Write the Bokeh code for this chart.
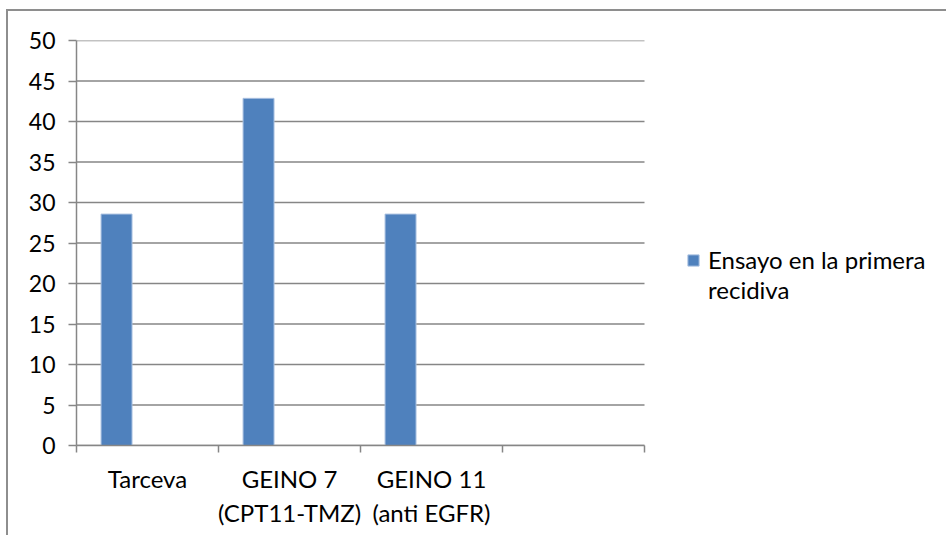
from bokeh.plotting import figure
from bokeh.models import (FixedTicker, Range1d, Legend, LegendItem, LinearAxis,
                          ColumnDataSource)
from bokeh.transform import dodge
from bokeh.embed import file_html
from bokeh.resources import INLINE

# ---- data ----
categories = ["Tarceva", "GEINO 7\n(CPT11-TMZ)", "GEINO 11\n(anti EGFR)", ""]
values = [28.57, 42.86, 28.57, None]
series_name = ["Ensayo en la primera", "recidiva"]
y_ticks = [0, 5, 10, 15, 20, 25, 30, 35, 40, 45, 50]

# ---- styles / layout ----
FONT = "Lato"
FS_Y = "23px"
FS = "24px"
GRID = "#868686"
BAR = "#4F81BD"

CANVAS_W, CANVAS_H = 940, 526
LEFT, TOP, BOTTOM = 68, 29, 92
FRAME_W = CANVAS_W - LEFT
SLOTS_PX = 568          # pixel width taken by the category slots

n = len(categories)
cat_pos = [i + 0.5 for i in range(n)]
bar_w = 0.218
x_end = n * FRAME_W / SLOTS_PX

src = ColumnDataSource(dict(
    x=[c for c, v in zip(cat_pos, values) if v is not None],
    top=[v for v in values if v is not None],
))

p = figure(width=CANVAS_W, height=CANVAS_H, output_backend="svg",
           toolbar_location=None,
           x_range=Range1d(0, x_end), y_range=Range1d(0, 50),
           x_axis_type=None, y_axis_type=None,
           min_border_left=LEFT, min_border_right=0,
           min_border_top=TOP, min_border_bottom=BOTTOM)
p.margin = (9, 0, 0, 6)
p.styles = {"border-top": "2px solid #8E8E8E", "border-left": "2px solid #8E8E8E"}
p.outline_line_color = None
p.background_fill_color = "white"
p.border_fill_color = "white"

# y axis
yax = LinearAxis(ticker=FixedTicker(ticks=y_ticks))
yax.axis_line_color = GRID
yax.axis_line_width = 1.5
yax.major_tick_line_color = GRID
yax.major_tick_line_width = 1.5
yax.major_tick_out = 8
yax.major_tick_in = 0
yax.minor_tick_line_color = None
yax.major_label_text_font = FONT
yax.major_label_text_font_size = FS_Y
yax.major_label_text_color = "black"
yax.major_label_standoff = 13
p.add_layout(yax, "left")

# horizontal gridlines across the category slots only
p.segment(x0=0, x1=n, y0=y_ticks, y1=y_ticks, line_color=GRID, line_width=1.5)

# x axis: labels centred in each slot, tick marks on the slot boundaries
labelled = [i for i, c in enumerate(categories) if c]
xax = LinearAxis(ticker=FixedTicker(ticks=[cat_pos[i] for i in labelled],
                                    minor_ticks=list(range(n + 1))),
                 bounds=(0, n))
xax.major_label_overrides = {cat_pos[i]: categories[i] for i in labelled}
xax.axis_line_color = GRID
xax.axis_line_width = 1.5
xax.major_tick_line_color = None
xax.major_tick_out = 0
xax.major_tick_in = 0
xax.minor_tick_line_color = GRID
xax.minor_tick_line_width = 1.5
xax.minor_tick_out = 7
xax.minor_tick_in = 0
xax.major_label_text_font = FONT
xax.major_label_text_font_size = FS
xax.major_label_text_color = "black"
xax.major_label_standoff = 11
p.add_layout(xax, "below")

bars = p.vbar(x=dodge("x", -bar_w, range=p.x_range), top="top", bottom=0,
              width=bar_w, source=src, fill_color=BAR,
              line_color="#A9C0E0", line_width=1)

# second line of the wrapped series name, with no swatch of its own
wrap = p.vbar(x=[], top=[], width=bar_w, fill_alpha=0, line_alpha=0)

legend = Legend(items=[LegendItem(label=series_name[0], renderers=[bars]),
                       LegendItem(label=series_name[1], renderers=[wrap])],
                location=(610, 141))
legend.border_line_color = None
legend.background_fill_alpha = 0
legend.padding = 0
legend.margin = 0
legend.spacing = 1
legend.glyph_width = 14
legend.glyph_height = 14
legend.label_standoff = 8
legend.label_text_font = FONT
legend.label_text_font_size = FS
legend.label_text_color = "black"
p.add_layout(legend, "center")

open("out.html", "w").write(file_html(p, INLINE))
